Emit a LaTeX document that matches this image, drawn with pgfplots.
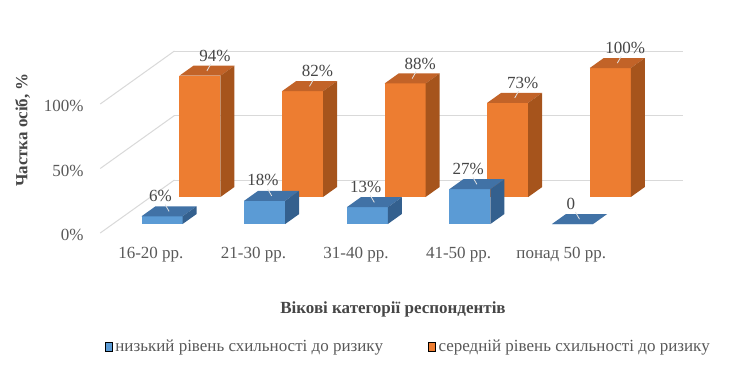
\documentclass[border=0pt]{standalone}
\usepackage{fontspec}
\setmainfont{Liberation Serif}
\usepackage{pgfplots}
\usepackage{pgfplotstable}
\pgfplotsset{compat=1.18}
\definecolor{bF}{RGB}{91,155,213}
\definecolor{bT}{RGB}{65,114,166}
\definecolor{bS}{RGB}{52,96,142}
\definecolor{oF}{RGB}{237,125,49}
\definecolor{oT}{RGB}{194,99,40}
\definecolor{oS}{RGB}{166,84,28}
\definecolor{txt}{RGB}{89,89,89}
\definecolor{ttl}{RGB}{70,70,70}
\definecolor{grd}{RGB}{217,217,217}
\pgfplotstableread{
cat low mid lowlab midlab
0 6 94 6\% 94\%
1 18 82 18\% 82\%
2 13 88 13\% 88\%
3 27 73 27\% 73\%
4 0 100 0 100\%
}\data
% cuboid: #1 category, #2 front depth, #3 value, #4 front, #5 top, #6 side colour
\newcommand\cuboid[6]{%
  \pgfmathsetmacro\xa{#1-0.2}\pgfmathsetmacro\xb{#1+0.2}\pgfmathsetmacro\db{#2+1}%
  \edef\tmp{%
    \noexpand\addplot3[fill=#4,draw=none,forget plot] coordinates {(\xa,#2,0) (\xb,#2,0) (\xb,#2,#3) (\xa,#2,#3)};
    \noexpand\addplot3[fill=#5,draw=none,forget plot] coordinates {(\xa,#2,#3) (\xb,#2,#3) (\xb,\db,#3) (\xa,\db,#3)};
    \noexpand\addplot3[fill=#6,draw=none,forget plot] coordinates {(\xb,#2,0) (\xb,\db,0) (\xb,\db,#3) (\xb,#2,#3)};
  }\tmp
}
\newcommand\fnt{\fontsize{12.75}{15}\selectfont}
\begin{document}
\fnt
\begin{tikzpicture}
\useasboundingbox (0,0) rectangle (548.25pt,284.25pt);
\begin{axis}[
  at={(112.125pt,109.5pt)}, anchor=origin,
  x={(76.95pt,0pt)}, y={(10.5pt,7.5pt)}, z={(0pt,0.9675pt)},
  xmin=-0.48, xmax=4.48, ymin=0, ymax=5.3, zmin=0, zmax=100,
  clip=false,
  axis line style={draw=none},
  major tick length=0pt,
  xtick={0,...,4},
  xticklabels={16-20 рр.,21-30 рр.,31-40 рр.,41-50 рр.,понад 50 рр.},
  ytick=\empty,
  ztick={0,50,100},
  zticklabels={0\%,50\%,100\%},
  zmajorgrids=true, xmajorgrids=false,
  major grid style={grd, line width=0.75pt},
  tick label style={text=txt, font=\fnt},
  x tick label style={anchor=north, yshift=-6pt, xshift=1pt},
  z tick label style={anchor=east, xshift=-8pt, yshift=-1.5pt},
  legend columns=2,
  legend style={draw=none, fill=none, at={(axis description cs:0.5,-0.6)}, anchor=center,
    xshift=12.75pt, yshift=-3.5pt,
    font=\fnt, text=txt,
    /tikz/every even column/.append style={column sep=32pt}},
  legend image code/.code={\fill[#1] (0pt,-3pt) rectangle (5.25pt,3.75pt);},
]
\addlegendimage{fill=bF}
\addlegendentry{низький рівень схильності до ризику}
\addlegendimage{fill=oF}
\addlegendentry{середній рівень схильності до ризику}
% back row (orange)
\pgfplotsinvokeforeach{0,...,4}{
  \pgfplotstablegetelem{#1}{mid}\of\data
  \cuboid{#1}{3.6}{\pgfplotsretval}{oF}{oT}{oS}
}
% front row (blue)
\pgfplotsinvokeforeach{0,...,4}{
  \pgfplotstablegetelem{#1}{low}\of\data
  \cuboid{#1}{0.9}{\pgfplotsretval}{bF}{bT}{bS}
}
% data labels
\addplot3[forget plot, only marks, mark=|, mark size=3pt,
  mark options={draw=white!78!gray, line width=0.6pt, xshift=1.5pt, yshift=2.5pt, rotate=-30},
  point meta=explicit symbolic, nodes near coords,
  every node near coord/.append style={anchor=south, inner sep=0pt, xshift=4.5pt, yshift=4pt,
    text=ttl, font=\fnt}]
  table[x=cat, y expr=4.1, z=mid, meta=midlab] {\data};
\addplot3[forget plot, only marks, mark=|, mark size=3pt,
  mark options={draw=white!78!gray, line width=0.6pt, xshift=-1.5pt, yshift=2.5pt, rotate=30},
  point meta=explicit symbolic, nodes near coords,
  every node near coord/.append style={anchor=south, inner sep=0pt, xshift=-5pt, yshift=4.5pt,
    text=ttl, font=\fnt}]
  table[x=cat, y expr=1.4, z=low, meta=lowlab] {\data};
\end{axis}
\node[rotate=90, font=\bfseries\fnt, text=ttl] at (16.9pt,186.75pt) {Частка осіб, \%};
\node[font=\bfseries\fnt, text=ttl] at (294.75pt,52.5pt) {Вікові категорії респондентів};
\end{tikzpicture}
\end{document}
